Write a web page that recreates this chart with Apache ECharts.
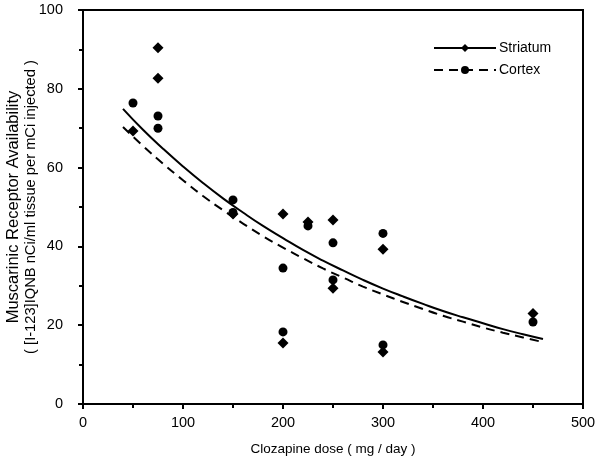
<!DOCTYPE html>
<html><head><meta charset="utf-8">
<script src="https://cdn.jsdelivr.net/npm/echarts@6/dist/echarts.min.js"></script>
<style>html,body{margin:0;padding:0;background:#fff}#c{width:600px;height:461px}</style>
</head><body><div id="c"></div>
<script>
// Scatter data (dose mg/day, availability)
const striatumPts = [[50,69.3],[75,90.4],[75,82.7],[150,48.2],[200,48.2],[200,15.5],[225,46.2],[250,46.7],[250,29.4],[300,39.3],[300,13.2],[450,23.0]];
const cortexPts = [[50,76.4],[75,73.1],[75,70.0],[150,51.8],[150,48.6],[200,34.5],[200,18.3],[225,45.2],[250,40.9],[250,31.5],[300,43.3],[300,15.0],[450,20.8]];
// Fitted curves
const curveX = [40,60,80,100,120,140,160,180,200,220,240,260,280,300,320,340,360,380,400,420,440,460];
const striatumFit = [74.9,69.6,64.8,60.3,56.1,52.2,48.6,45.2,42.1,39.1,36.4,33.9,31.5,29.3,27.3,25.4,23.6,22.0,20.5,19.0,17.7,16.5];
const cortexFit = [70.3,65.5,61.0,56.8,52.8,49.2,45.8,42.6,39.7,37.0,34.4,32.1,29.8,27.8,25.9,24.1,22.4,20.9,19.4,18.1,16.9,15.7];
const xTicks = [0,100,200,300,400,500];
const yTicks = [0,20,40,60,80,100];

const font = 'Liberation Sans, Arial, sans-serif';
const chart = echarts.init(document.getElementById('c'), null, {renderer:'canvas'});
const axisCommon = {
  axisLine:{show:true, lineStyle:{color:'#000', width:2}},
  axisTick:{show:true, length:5, lineStyle:{color:'#000', width:2}},
  minorTick:{show:true, splitNumber:2, length:4, lineStyle:{color:'#000', width:2}},
  splitLine:{show:false},
  axisLabel:{color:'#000', fontFamily:font, fontSize:14.5}
};
chart.setOption({
  animation:false,
  backgroundColor:'#fff',
  grid:{left:83, right:17, top:10, bottom:57, outerBoundsMode:'none', containLabel:false,
        show:true, borderColor:'#000', borderWidth:2, backgroundColor:'transparent'},
  legend:{
    data:['Striatum','Cortex'], orient:'vertical', left:428, top:36, itemGap:8,
    itemWidth:62, itemHeight:10,
    textStyle:{color:'#000', fontFamily:font, fontSize:14, padding:[0,0,0,-2]}
  },
  xAxis:Object.assign({}, axisCommon, {type:'value', min:xTicks[0], max:xTicks[xTicks.length-1], interval:100,
    axisLabel:Object.assign({}, axisCommon.axisLabel, {margin:11}),
    name:'Clozapine dose ( mg / day )', nameLocation:'middle', nameGap:38, nameMoveOverlap:false,
    nameTextStyle:{color:'#000', fontFamily:font, fontSize:13.5}}),
  yAxis:Object.assign({}, axisCommon, {type:'value', min:yTicks[0], max:yTicks[yTicks.length-1], interval:20,
    axisLabel:Object.assign({}, axisCommon.axisLabel, {margin:20}),
    name:'{a|Muscarinic Receptor Availability}\n{b|( [I-123]IQNB nCi/ml tissue per mCi injected )}',
    nameLocation:'middle', nameGap:43, nameMoveOverlap:false,
    nameTextStyle:{color:'#000', fontFamily:font,
      rich:{a:{fontFamily:font, fontSize:16.5, lineHeight:18, color:'#000'},
            b:{fontFamily:font, fontSize:14.7, lineHeight:18, color:'#000'}}}}),
  series:[
    {name:'Striatum', type:'line', data:curveX.map((x,i)=>[x,striatumFit[i]]), smooth:true,
     showSymbol:false, symbol:'diamond', symbolSize:7, itemStyle:{color:'#000'},
     lineStyle:{color:'#000', width:2, type:'solid'}, z:3},
    {name:'Cortex', type:'line', data:curveX.map((x,i)=>[x,cortexFit[i]]), smooth:true,
     showSymbol:false, symbol:'circle', symbolSize:7, itemStyle:{color:'#000'},
     lineStyle:{color:'#000', width:2, type:[9,6]}, z:3},
    {name:'StriatumPts', type:'scatter', data:striatumPts, symbol:'diamond', symbolSize:11,
     itemStyle:{color:'#000', opacity:1}, z:4},
    {name:'CortexPts', type:'scatter', data:cortexPts, symbol:'circle', symbolSize:9,
     itemStyle:{color:'#000', opacity:1}, z:4}
  ]
});
</script></body></html>
